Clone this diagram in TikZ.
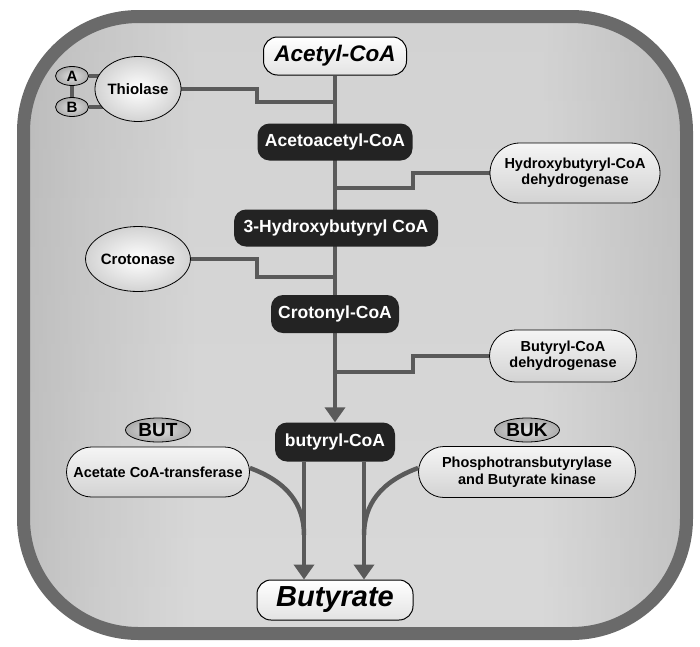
\documentclass[tikz,border=0pt]{standalone}
\usepackage{fontspec}
\setmainfont{Liberation Sans}
\usetikzlibrary{shapes.geometric,shapes.misc,arrows.meta,calc,fadings}
\pgfdeclarelayer{back}\pgfdeclarelayer{mid}\pgfsetlayers{back,mid,main}
\definecolor{rim}{HTML}{6A6A6A}
\definecolor{linkc}{HTML}{5A5A5A}
\definecolor{boxc}{HTML}{232323}
\pgfdeclarehorizontalshading{cellh}{100bp}{color(0bp)=(gray!78); color(8bp)=(gray!70); color(30bp)=(gray!15); color(38bp)=(white); color(64bp)=(white); color(80bp)=(gray!35); color(100bp)=(gray!62)}
\tikzfading[name=cellv, top color=transparent!65, middle color=transparent!100, bottom color=transparent!70]
\begin{document}
\begin{tikzpicture}[x=1pt,y=-1pt,
  metab/.style={fill=boxc, text=white, rounded corners=12pt, inner sep=0pt, font=\bfseries\fontsize{17.5}{20}\selectfont},
  pool/.style={draw=black, line width=1pt, rounded corners=14pt, top color=white, bottom color=gray!22, inner sep=0pt, font=\bfseries\itshape\fontsize{22.5}{24}\selectfont},
  enzpill/.style={rounded rectangle, draw=black, line width=0.8pt, top color=gray!8, bottom color=gray!35, inner sep=0pt, align=center, font=\bfseries\fontsize{14.5}{16.5}\selectfont},
  enzell/.style={ellipse, draw=black, line width=0.8pt, inner color=white, outer color=gray!35, inner sep=0pt, minimum width=84pt, minimum height=65pt, font=\bfseries\fontsize{15}{16}\selectfont},
  tag/.style={ellipse, draw=black, line width=0.8pt, inner color=gray!25, outer color=gray!65, inner sep=0pt, font=\bfseries\fontsize{19}{20}\selectfont},
  subunit/.style={tag, minimum width=33pt, minimum height=19pt, font=\bfseries\fontsize{15}{16}\selectfont},
  link/.style={draw=linkc, line width=4.5pt},
  flow/.style={link, -{Triangle[width=20pt,length=15pt]}}
]
\useasboundingbox (0,0) rectangle (700,646);
% cell
\begin{pgfonlayer}{back}
\path[shading=cellh] (23.5,16.5) [rounded corners=115pt] rectangle (686.5,633.5);
\fill[gray, path fading=cellv] (23.5,16.5) [rounded corners=115pt] rectangle (686.5,633.5);
\draw[rim, line width=13pt, rounded corners=115pt] (23.5,16.5) rectangle (686.5,633.5);
\end{pgfonlayer}
% metabolites
\node[pool, minimum width=143pt, minimum height=38pt] (acetyl) at (335,56) {Acetyl-CoA};
\node[metab, minimum width=155pt, minimum height=37pt] (acetoacetyl) at (335,142) {Acetoacetyl-CoA};
\node[metab, minimum width=204pt, minimum height=37pt] (hb) at (336,228) {3-Hydroxybutyryl CoA};
\node[metab, minimum width=128pt, minimum height=38pt] (crotonyl) at (335,314) {Crotonyl-CoA};
\node[metab, minimum width=120pt, minimum height=39pt] (butyryl) at (335,442) {butyryl-CoA};
\node[pool, minimum width=156pt, minimum height=40pt, font=\bfseries\itshape\fontsize{29}{30}\selectfont] (butyrate) at (335,600) {Butyrate};
% enzymes
\node[enzell] (thio) at (138,89) {Thiolase};
\node[subunit] (A) at (72,76) {A};
\node[subunit] (B) at (72,107) {B};
\node[enzpill, minimum width=170pt, minimum height=60pt] (hbd) at (575,173) {Hydroxybutyryl-CoA\\dehydrogenase};
\node[enzell] (crot) at (138,259) {Crotonase};
\node[enzpill, minimum width=147pt, minimum height=52pt] (bcd) at (563,356) {Butyryl-CoA\\dehydrogenase};
\node[tag, minimum width=65pt, minimum height=24pt] (but) at (158,430) {BUT};
\node[enzpill, minimum width=183pt, minimum height=50pt] (act) at (158,472) {Acetate CoA-transferase};
\node[tag, minimum width=65pt, minimum height=24pt] (buk) at (527,430) {BUK};
\node[enzpill, minimum width=217pt, minimum height=51pt] (pbk) at (527,472) {Phosphotransbutyrylase\\and Butyrate kinase};
% junction points on the main line
\coordinate (s1) at (257,102); \coordinate (j1) at (335,102);
\coordinate (s2) at (413,188); \coordinate (j2) at (335,188);
\coordinate (s3) at (257,277); \coordinate (j3) at (335,277);
\coordinate (s4) at (413,372); \coordinate (j4) at (335,372);
\coordinate (m1) at (304,535); \coordinate (m2) at (364,535);
\begin{pgfonlayer}{mid}
\draw[flow] (acetyl.south) -- (butyryl.north);
\draw[link, line width=3.5pt] (A) -- (B);
\draw[link, line width=3.5pt] (A) -- (A -| thio);
\draw[link, line width=3.5pt] (B) -- (B -| thio);
\draw[link] (thio.east) -| (s1) -- (j1);
\draw[link] (hbd.west) -| (s2) -- (j2);
\draw[link] (crot.east) -| (s3) -- (j3);
\draw[link] (bcd.west) -| (s4) -- (j4);
\draw[flow] ([xshift=-31pt]butyryl.south) -- ([xshift=-31pt]butyrate.north);
\draw[flow] ([xshift=29pt]butyryl.south) -- ([xshift=29pt]butyrate.north);
\draw[link] ([yshift=4pt]act.east) .. controls (288,482) and (304,505) .. (m1);
\draw[link] ([yshift=4pt]pbk.west) .. controls (380,482) and (364,505) .. (m2);
\end{pgfonlayer}
\end{tikzpicture}
\end{document}
